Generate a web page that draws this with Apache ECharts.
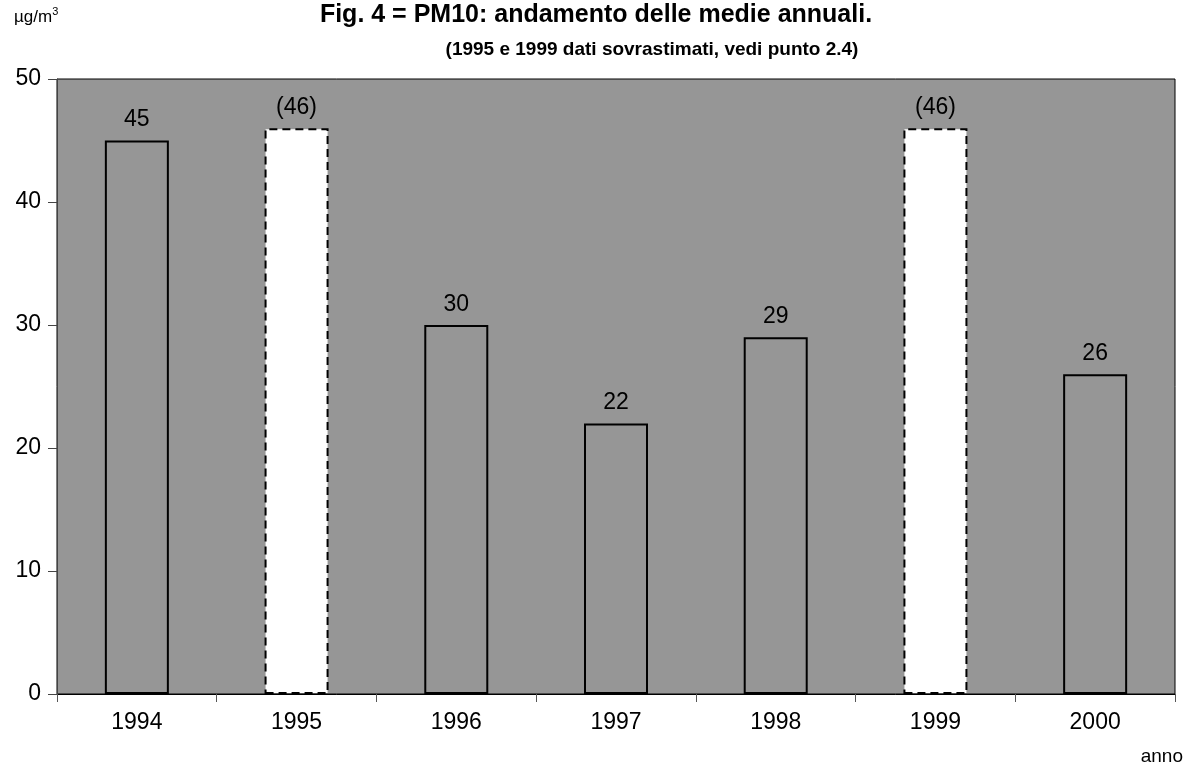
<!DOCTYPE html>
<html>
<head>
<meta charset="utf-8">
<script src="https://cdn.jsdelivr.net/npm/echarts@6/dist/echarts.min.js"></script>
<style>
  html, body { margin: 0; padding: 0; background: #fff; }
  #chart { width: 1188px; height: 765px; }
</style>
</head>
<body>
<div id="chart"></div>
<script>
// Annual PM10 means (µg/m3); 1995 and 1999 are overestimated values
const years = ['1994', '1995', '1996', '1997', '1998', '1999', '2000'];
const values = [45, 46, 30, 22, 29, 46, 26];
const overestimated = [false, true, false, false, false, true, false];
const yTicks = { min: 0, max: 50, interval: 10 };

const FONT = 'Liberation Sans, Arial, sans-serif';
const PLOT_BG = '#969696';

const barData = values.map((v, i) => ({
  value: v,
  itemStyle: overestimated[i]
    ? { color: '#ffffff', borderColor: '#000', borderWidth: 2, borderType: [8, 5] }
    : { color: PLOT_BG, borderColor: '#000', borderWidth: 2, borderType: 'solid' },
  label: { formatter: overestimated[i] ? '(' + v + ')' : String(v) }
}));

const chart = echarts.init(document.getElementById('chart'));
chart.setOption({
  animation: false,
  backgroundColor: '#ffffff',
  graphic: [
    {
      type: 'text',
      x: 596,
      y: 3,
      style: {
        text: 'Fig. 4 = PM10: andamento delle medie annuali.',
        fontFamily: FONT, fontSize: 25, fontWeight: 'bold', fill: '#000',
        align: 'center', verticalAlign: 'top'
      }
    },
    {
      type: 'text',
      x: 652,
      y: 40,
      style: {
        text: '(1995 e 1999 dati sovrastimati, vedi punto 2.4)',
        fontFamily: FONT, fontSize: 19, fontWeight: 'bold', fill: '#000',
        align: 'center', verticalAlign: 'top'
      }
    },
    {
      type: 'text',
      left: 14,
      top: 6,
      style: {
        text: '{u|µg/m}{s|3}',
        rich: {
          u: { fontFamily: FONT, fontSize: 17, fill: '#000', verticalAlign: 'bottom' },
          s: { fontFamily: FONT, fontSize: 11, fill: '#000', verticalAlign: 'top', padding: [0, 0, 9, 0] }
        }
      }
    },
    {
      type: 'text',
      right: 5,
      top: 747,
      style: { text: 'anno', fontFamily: FONT, fontSize: 19, fill: '#000' }
    }
  ],
  grid: {
    left: 57, right: 13, top: 79, bottom: 71,
    show: true,
    backgroundColor: PLOT_BG,
    borderColor: '#000',
    borderWidth: 1
  },
  xAxis: {
    type: 'category',
    data: years,
    axisLine: { lineStyle: { color: '#000', width: 1 } },
    axisTick: { show: true, length: 8, lineStyle: { color: '#555' } },
    axisLabel: { fontFamily: FONT, fontSize: 23, color: '#000', margin: 17 }
  },
  yAxis: {
    type: 'value',
    min: yTicks.min,
    max: yTicks.max,
    interval: yTicks.interval,
    splitLine: { show: false },
    axisLine: { show: true, lineStyle: { color: '#444' } },
    axisTick: { show: true, length: 9, lineStyle: { color: '#444' } },
    axisLabel: { fontFamily: FONT, fontSize: 23, color: '#000', margin: 16 }
  },
  series: [{
    type: 'bar',
    data: barData,
    barWidth: 64,
    label: {
      show: true,
      position: 'top',
      distance: 9,
      fontFamily: FONT,
      fontSize: 23,
      color: '#000'
    }
  }]
});
</script>
</body>
</html>
